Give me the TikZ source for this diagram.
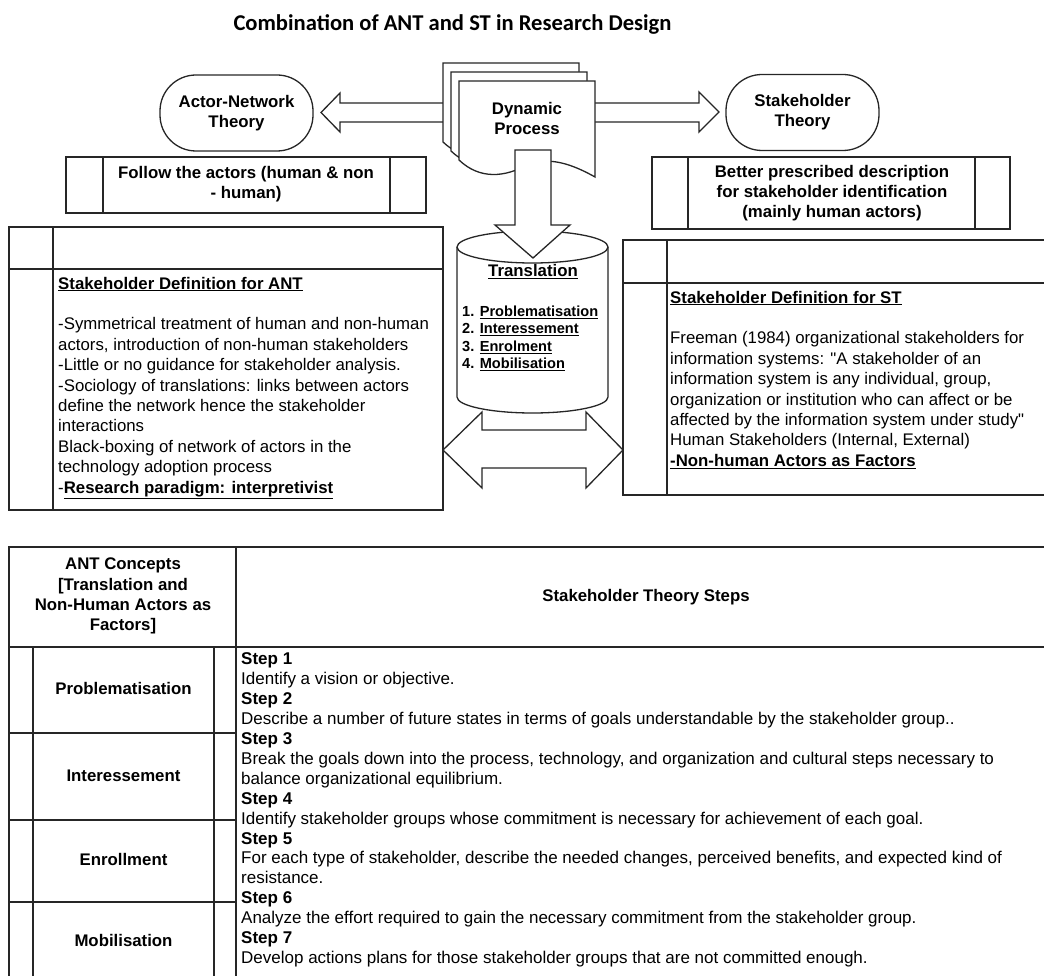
\documentclass[tikz,border=0pt]{standalone}
\usepackage{fontspec}
\setmainfont{Liberation Sans}
\newfontfamily\titlefont{Carlito}
\newfontfamily\quotefont{Liberation Sans}[Ligatures=TeXOff]
\usetikzlibrary{positioning}

\tikzset{
  box/.style={line width=1.3pt, draw=black!85},
  blk/.style={box, fill=white},
  txt/.style={inner sep=0pt, align=left, font=\fontsize{16.8}{20.4}\selectfont},
  btxt/.style={inner sep=0pt, align=center, font=\fontsize{16.8}{20}\selectfont\bfseries},
  terminal/.style={box, rounded corners=36pt, minimum width=153pt, minimum height=76pt, inner sep=0pt, align=center, font=\fontsize{16.8}{20}\selectfont\bfseries},
}
\newcommand{\sq}{{\quotefont\char"22}}

\begin{document}
\begin{tikzpicture}[x=1pt, y=-1pt]
\useasboundingbox (0,0) rectangle (1044,976);
\clip (0,0) rectangle (1044,976);

% Title
\node[inner sep=0pt, anchor=base, font=\titlefont\fontsize{22.6}{26}\selectfont\bfseries] (title) at (452.5,30.6) {Combination of ANT and ST in Research Design};

% Process boxes under the two theories
\draw[box] (66,157) rectangle (426,213);
\draw[box] (103,157) -- (103,213);
\draw[box] (390,157) -- (390,213);
\draw[box] (652,157) rectangle (1010,229);
\draw[box] (688,157) -- (688,229);
\draw[box] (975,157) -- (975,229);

% Definition boxes
\draw[box] (9,227) rectangle (443,510);
\draw[box] (9,269) -- (443,269);
\draw[box] (53,227) -- (53,510);
\draw[box] (623,240) rectangle (1060,495);
\draw[box] (623,283) -- (1060,283);
\draw[box] (667,240) -- (667,495);

% Table
\draw[box] (9,990) -- (9,547) -- (1060,547);
\draw[box] (9,647) -- (1060,647);
\draw[box] (236,547) -- (236,990);
\draw[box] (33,647) -- (33,990);
\draw[box] (214,647) -- (214,990);
\foreach \y in {733,820,902}
  \draw[box] (9,\y) -- (236,\y);

% Theories
\node[terminal, draw] (ant) at (236.5,113) {Actor-Network\\Theory};
\node[terminal, draw] (stt) at (802.5,112.5) {Stakeholder\\Theory};

% Block arrows to the theories
\draw[blk] (443,103) -- (340,103) -- (340,93) -- (321,112.5) -- (340,132) -- (340,122) -- (443,122);
\draw[blk] (595,103) -- (699,103) -- (699,92) -- (719,112) -- (699,132) -- (699,122) -- (595,122);

% Dynamic process: stack of documents
\foreach \d in {16,8,0}
  \draw[blk, shift={(-\d,-1.125*\d)}] (459,81) -- (595,81) -- (595,177)
    .. controls (565,160) and (545,158) .. (527,165)
    .. controls (505,177) and (480,180) .. (459,160) -- cycle;

% Translation cylinder
\draw[blk] (457,247) -- (457,397) arc[start angle=180, end angle=360, x radius=75.5pt, y radius=16pt]
  -- (608,247) arc[start angle=0, end angle=180, x radius=75.5pt, y radius=16pt] -- cycle;
\draw[box] (457,247) arc[start angle=180, end angle=360, x radius=75.5pt, y radius=16pt];

% Down arrow and double arrow
\draw[blk] (515,150) -- (551,150) -- (551,225) -- (570,225) -- (533,258) -- (495,225) -- (515,225) -- cycle;
\draw[blk] (443,450) -- (482,412) -- (482,430) -- (586,430) -- (586,412) -- (623,450)
  -- (586,488) -- (586,468) -- (482,468) -- (482,488) -- cycle;

% Texts
\node[btxt] (dyn) at (527,118) {Dynamic\\Process};
\node[btxt] (follow) at (246,184) {Follow the actors (human \& non\\- human)};
\node[btxt] (better) at (832,193.6) {Better prescribed description\\for stakeholder identification\\(mainly human actors)};

\node[btxt, anchor=base] (trans) at (533,277) {\underline{Translation}};
\node[txt, anchor=north west, font=\fontsize{14.6}{17.6}\selectfont\bfseries] (translist) at (462,305.4)
  {1. \underline{Problematisation}\\2. \underline{Interessement}\\3. \underline{Enrolment}\\4. \underline{Mobilisation}};

\node[txt, anchor=north west] (antdef) at (58,276.7) {\underline{\textbf{Stakeholder Definition for ANT}}\\[20.4pt]
-Symmetrical treatment of human and non-human\\
actors, introduction of non-human stakeholders\\
-Little or no guidance for stakeholder analysis.\\
-Sociology of translations: links between actors\\
define the network hence the stakeholder\\
interactions\\
Black-boxing of network of actors in the\\
technology adoption process\\
-\underline{\textbf{Research paradigm: interpretivist}}};

\node[txt, anchor=north west] (stdef) at (670,290.7) {\underline{\textbf{Stakeholder Definition for ST}}\\[20.4pt]
Freeman (1984) organizational stakeholders for\\
information systems: \sq A stakeholder of an\\
information system is any individual, group,\\
organization or institution who can affect or be\\
affected by the information system under study\sq\\
Human Stakeholders (Internal, External)\\
\underline{\textbf{-Non-human Actors as Factors}}};

% Table texts
\node[btxt, font=\fontsize{16.8}{20.4}\selectfont\bfseries, anchor=north] (antcon) at (123,557.7) {ANT Concepts\\{}[Translation and\\Non-Human Actors as\\Factors]};
\node[btxt, anchor=base] (ststeps) at (646,601) {Stakeholder Theory Steps};
\node[btxt, anchor=base] (prob) at (123.5,694) {Problematisation};
\node[btxt, anchor=base] (inter) at (123.5,781) {Interessement};
\node[btxt, anchor=base] (enrol) at (123.5,865) {Enrollment};
\node[btxt, anchor=base] (mobil) at (123.5,946) {Mobilisation};

\node[txt, anchor=north west, font=\fontsize{17}{19.93}\selectfont] (steps) at (241,652.6) {\textbf{Step 1}\\
Identify a vision or objective.\\
\textbf{Step 2}\\
Describe a number of future states in terms of goals understandable by the stakeholder group..\\
\textbf{Step 3}\\
Break the goals down into the process, technology, and organization and cultural steps necessary to\\
balance organizational equilibrium.\\
\textbf{Step 4}\\
Identify stakeholder groups whose commitment is necessary for achievement of each goal.\\
\textbf{Step 5}\\
For each type of stakeholder, describe the needed changes, perceived benefits, and expected kind of\\
resistance.\\
\textbf{Step 6}\\
Analyze the effort required to gain the necessary commitment from the stakeholder group.\\
\textbf{Step 7}\\
Develop actions plans for those stakeholder groups that are not committed enough.};

\end{tikzpicture}
\end{document}
